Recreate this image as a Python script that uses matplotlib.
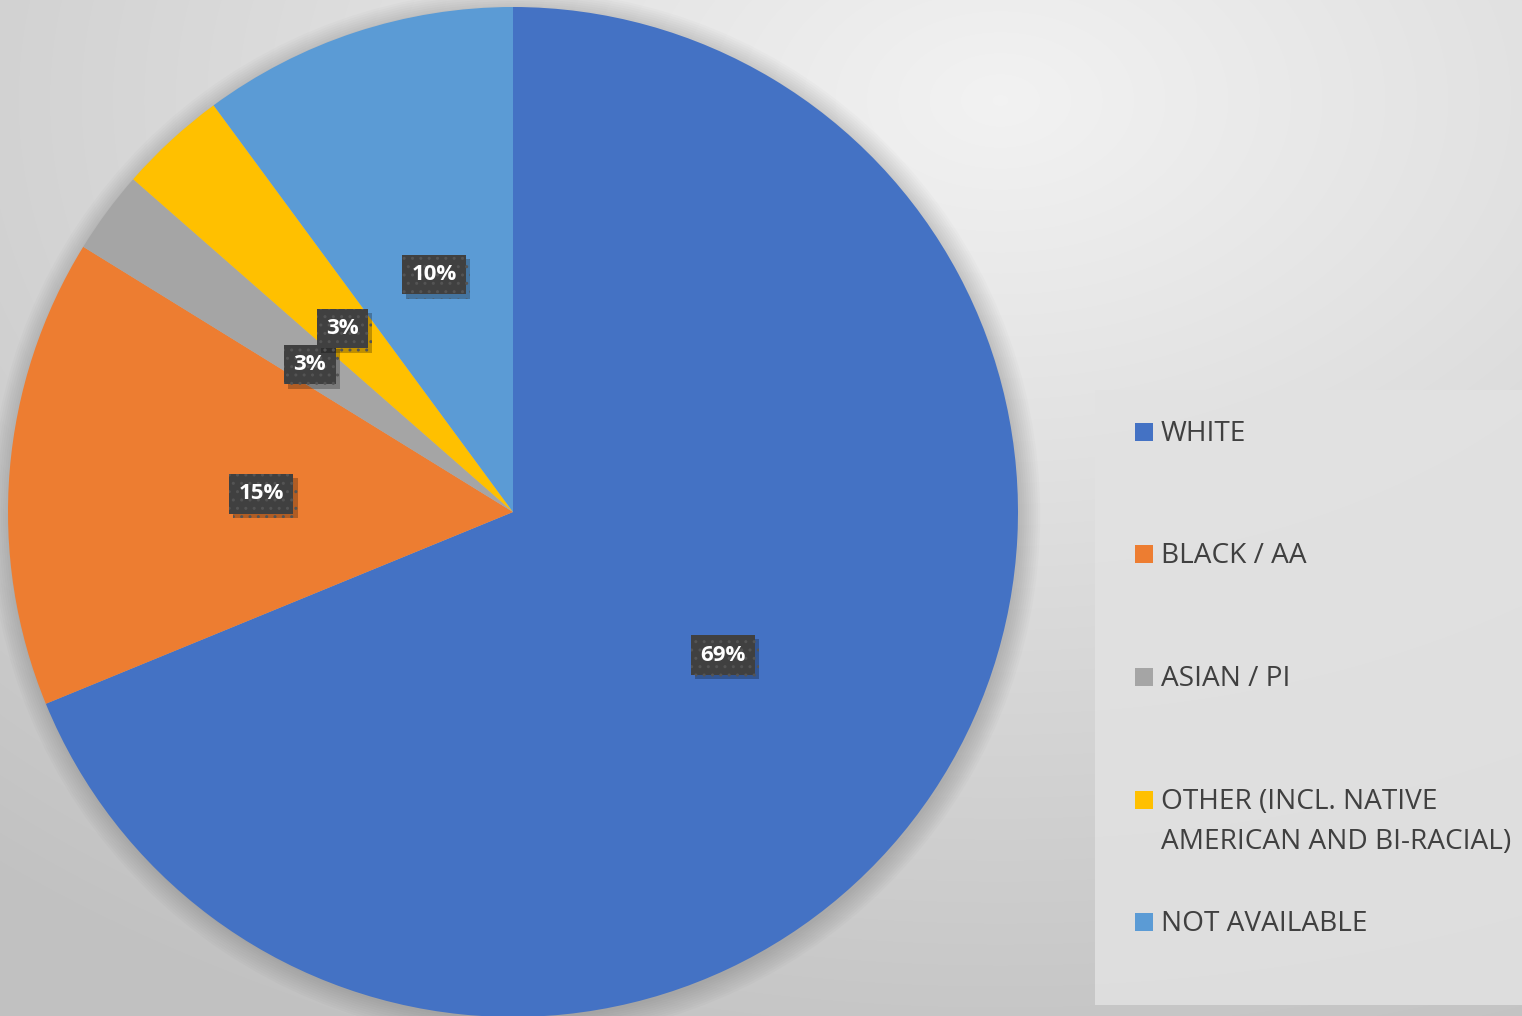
import numpy as np
import matplotlib
matplotlib.use("Agg")
import matplotlib.pyplot as plt
import matplotlib.patheffects as pe
from matplotlib.patches import Rectangle, Circle

categories = ["WHITE", "BLACK / AA", "ASIAN / PI",
              "OTHER (INCL. NATIVE\nAMERICAN AND BI-RACIAL)", "NOT AVAILABLE"]
values = [68.8, 15.0, 2.65, 3.45, 10.1]
pct_labels = ["69%", "15%", "3%", "3%", "10%"]
colors = ["#4472C4", "#ED7D31", "#A5A5A5", "#FFC000", "#5B9BD5"]

W, H = 1522, 1016
fig = plt.figure(figsize=(W / 100, H / 100), dpi=100)

# background gradient
bg = fig.add_axes([0, 0, 1, 1])
yy, xx = np.mgrid[0:H, 0:W]
d = np.sqrt(((xx - 1000) / W) ** 2 + ((yy - 100) / H) ** 2)
g = 0.95 - 0.19 * np.clip(d / 1.0, 0, 1)
bg.imshow(np.dstack([g, g, g]), extent=[0, W, H, 0], aspect="auto")
bg.set_xlim(0, W); bg.set_ylim(H, 0); bg.axis("off")

# legend box
bg.add_patch(Rectangle((1095, 390), 430, 615, facecolor="#e2e2e2", edgecolor="none", alpha=0.85))
legend_y = [432, 554, 677, 800, 922]
for c, lab, y in zip(colors, categories, legend_y):
    bg.add_patch(Rectangle((1135, y - 9), 18, 18, facecolor=c, edgecolor="none"))
    bg.text(1161, y - 12, lab, fontsize=20.2, color="#404040", family="Open Sans",
            va="top", ha="left", linespacing=1.55)

# pie
cx, cy, r = 513, 512, 505
ax = fig.add_axes([(cx - r) / W, (H - cy - r) / H, 2 * r / W, 2 * r / H])
# soft shadow
for rr in np.linspace(1.04, 1.0, 10):
    ax.add_patch(Circle((0.004, -0.006), rr, facecolor="black", edgecolor="none", alpha=0.015, clip_on=False))

wedges, _ = ax.pie(values, colors=colors, startangle=90, counterclock=False, radius=1,
                   wedgeprops=dict(linewidth=0))
ax.set_xlim(-1, 1); ax.set_ylim(-1, 1); ax.axis("off")
for w, lab in zip(wedges, pct_labels):
    ang = np.deg2rad((w.theta1 + w.theta2) / 2)
    x, y = 0.5 * np.cos(ang), 0.5 * np.sin(ang)
    t = ax.text(x, y - 0.005, lab, ha="center", va="center", fontsize=16, fontweight="bold",
                family="Open Sans", color="white",
                bbox=dict(boxstyle="square,pad=0.42", facecolor="#404040", edgecolor="#545454",
                          linewidth=0, hatch=".."))
    t.get_bbox_patch().set_path_effects([
        pe.SimplePatchShadow(offset=(3, -3), shadow_rgbFace="black", alpha=0.25),
        pe.Normal()])

fig.savefig("out.png", dpi=100)
